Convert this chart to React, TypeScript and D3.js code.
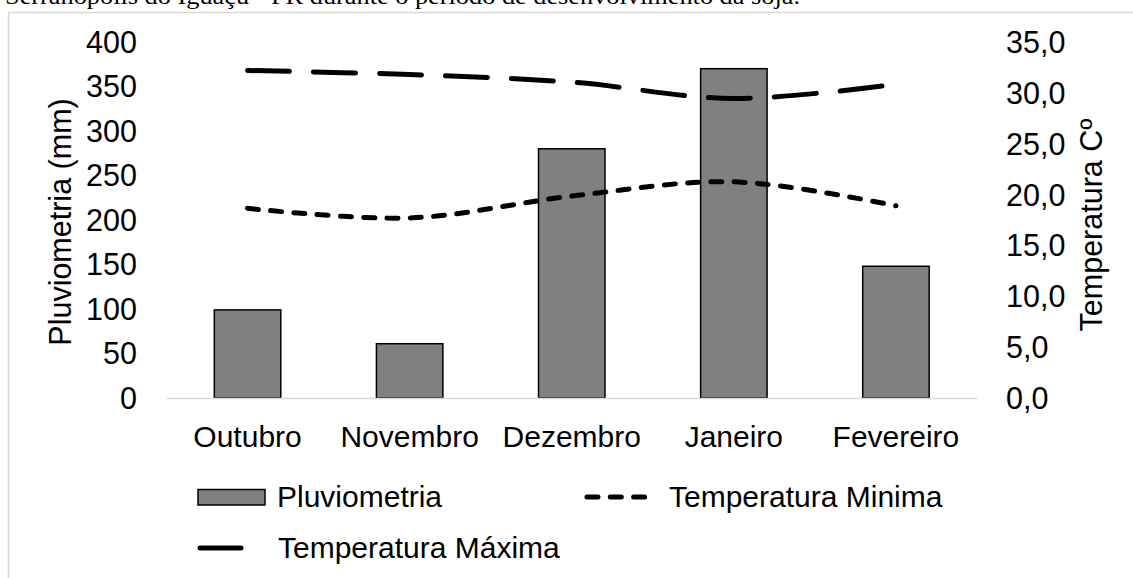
import React from "react";
import * as d3 from "d3";

const months = ["Outubro", "Novembro", "Dezembro", "Janeiro", "Fevereiro"];
const pluviometria = [99, 61, 280, 370, 148];
const tempMin = [18.65, 17.7, 19.85, 21.25, 18.9];
const tempMax = [32.2, 31.8, 31.05, 29.45, 30.85];
const leftTicks = [0, 50, 100, 150, 200, 250, 300, 350, 400];
const rightTicks = [0, 5, 10, 15, 20, 25, 30, 35];

const W = 1133;
const H = 578;
const FONT = "'Liberation Sans', Arial, sans-serif";

export default function App() {
  const x = d3.scaleBand<string>().domain(months).range([166.5, 977]).paddingInner(0.59).paddingOuter(0.295);
  const xc = d3.scalePoint<string>().domain(months).range([166.5, 977]).padding(0.5);
  const yL = d3.scaleLinear().domain([0, 400]).range([398, 42]);
  const yR = d3.scaleLinear().domain([0, 35]).range([398, 42]);

  const line = (vals: number[]) =>
    d3
      .line<number>()
      .x((_, i) => xc(months[i]) as number)
      .y((v) => yR(v))
      .curve(d3.curveCatmullRom.alpha(0.5))(vals) as string;

  const fmt = (v: number) => v.toFixed(1).replace(".", ",");

  return (
    <svg width={W} height={H} style={{ position: "absolute", left: 0, top: 0, background: "#fff" }}>
      <text
        x={5}
        y={4}
        fontFamily="'Liberation Serif', 'Times New Roman', serif"
        fontSize={24}
        textLength={795}
        lengthAdjust="spacingAndGlyphs"
        fill="#000"
      >
        Serranópolis do Iguaçu - PR durante o período de desenvolvimento da soja.
      </text>
      <rect x={8.5} y={12.5} width={1140} height={600} fill="none" stroke="#d9d9d9" strokeWidth={1.5} />

      {/* bars */}
      {pluviometria.map((v, i) => (
        <rect
          key={months[i]}
          x={x(months[i])}
          y={yL(v)}
          width={x.bandwidth()}
          height={yL(0) - yL(v)}
          fill="#808080"
          stroke="#000"
          strokeWidth={1.5}
        />
      ))}

      {/* baseline */}
      <line x1={166.5} x2={977} y1={398.5} y2={398.5} stroke="#d9d9d9" strokeWidth={1.5} />

      {/* lines */}
      <path d={line(tempMax)} fill="none" stroke="#000" strokeWidth={5} strokeDasharray="42 24" strokeLinecap="round" />
      <path d={line(tempMin)} fill="none" stroke="#000" strokeWidth={5} strokeDasharray="11 12.3" strokeLinecap="round" />

      {/* left ticks */}
      {leftTicks.map((t) => (
        <text key={"l" + t} x={137} y={yL(t)} dy="0.36em" textAnchor="end" fontFamily={FONT} fontSize={30.5} fill="#000">
          {t}
        </text>
      ))}
      {/* right ticks */}
      {rightTicks.map((t) => (
        <text key={"r" + t} x={1006} y={yR(t)} dy="0.36em" textAnchor="start" fontFamily={FONT} fontSize={30.5} fill="#000">
          {fmt(t)}
        </text>
      ))}
      {/* categories */}
      {months.map((m) => (
        <text key={m} x={xc(m)} y={447} textAnchor="middle" fontFamily={FONT} fontSize={30} fill="#000">
          {m}
        </text>
      ))}

      {/* axis titles */}
      <text
        transform={`translate(71,222) rotate(-90)`}
        textAnchor="middle"
        fontFamily={FONT}
        fontSize={30.5}
        fill="#000"
      >
        Pluviometria (mm)
      </text>
      <text
        transform={`translate(1102,225) rotate(-90)`}
        textAnchor="middle"
        fontFamily={FONT}
        fontSize={30.5}
        fill="#000"
      >
        Temperatura Cº
      </text>

      {/* legend */}
      <rect x={198} y={489.5} width={67} height={15.5} fill="#808080" stroke="#000" strokeWidth={1.5} />
      <text x={277} y={507} fontFamily={FONT} fontSize={30} fill="#000">
        Pluviometria
      </text>
      <line x1={587} x2={650} y1={497} y2={497} stroke="#000" strokeWidth={5} strokeDasharray="11 12.3" strokeLinecap="round" />
      <text x={669} y={507} fontFamily={FONT} fontSize={30} fill="#000">
        Temperatura Minima
      </text>
      <line x1={200} x2={241} y1={548} y2={548} stroke="#000" strokeWidth={5} strokeDasharray="42 24" strokeLinecap="round" />
      <text x={278} y={558} fontFamily={FONT} fontSize={30} fill="#000">
        Temperatura Máxima
      </text>
    </svg>
  );
}
